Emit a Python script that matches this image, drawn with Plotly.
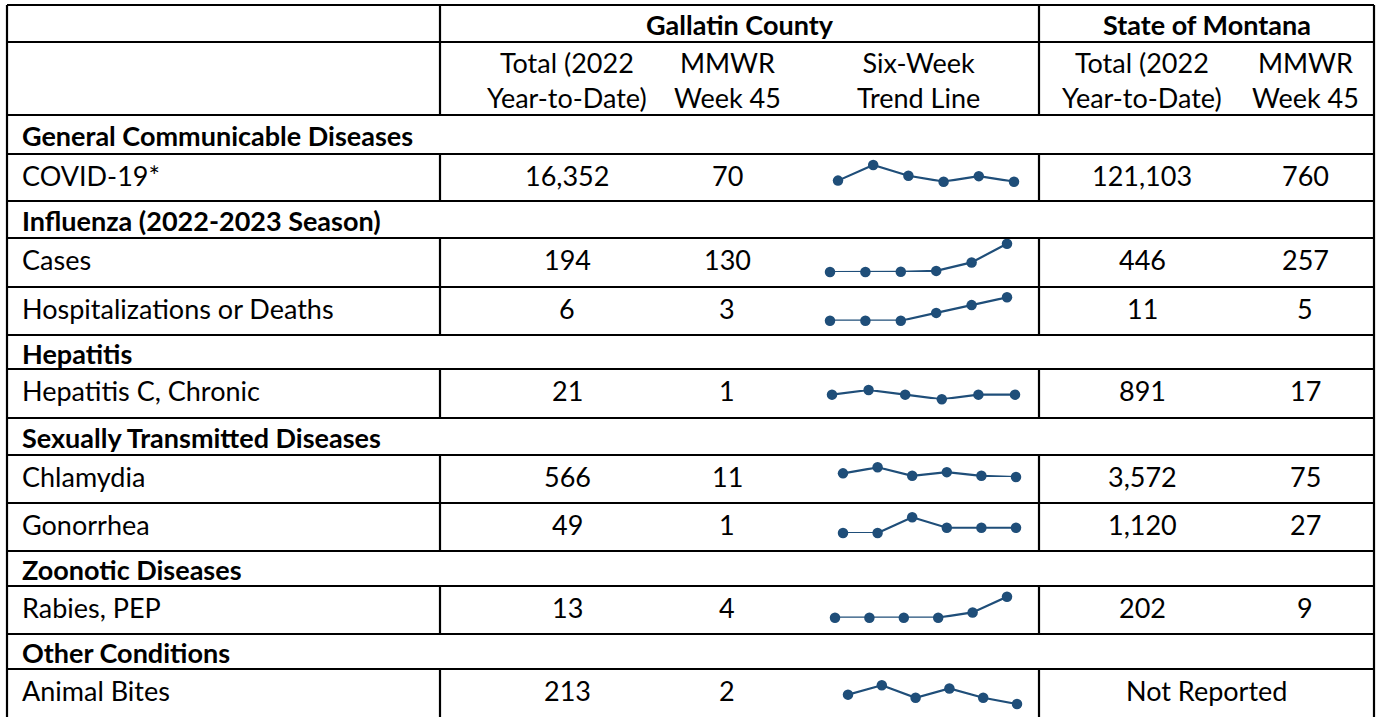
import plotly.graph_objects as go

W, H = 1377, 717

# ---------------- data ----------------
sections = ["General Communicable Diseases", "Influenza (2022-2023 Season)", "Hepatitis",
            "Sexually Transmitted Diseases", "Zoonotic Diseases", "Other Conditions"]
conditions = ["COVID-19*", "Cases", "Hospitalizations or Deaths", "Hepatitis C, Chronic",
              "Chlamydia", "Gonorrhea", "Rabies, PEP", "Animal Bites"]
condition_section = [0, 1, 1, 2, 3, 3, 4, 5]
gallatin_ytd = [16352, 194, 6, 21, 566, 49, 13, 213]
gallatin_week45 = [70, 130, 3, 1, 11, 1, 4, 2]
montana_ytd = [121103, 446, 11, 891, 3572, 1120, 202, None]
montana_week45 = [760, 257, 5, 17, 75, 27, 9, None]
weeks = [40, 41, 42, 43, 44, 45]
trend_covid = [73, 115, 86, 70, 85, 70]
trend_flu_cases = [3, 3, 4, 8, 46, 130]
trend_flu_hosp = [0, 0, 0, 1, 2, 3]
trend_hepc = [1, 2, 1, 0, 1, 1]
trend_chlamydia = [14, 19, 12, 15, 12, 11]
trend_gonorrhea = [0, 0, 3, 1, 1, 1]
trend_rabies = [0, 0, 0, 0, 1, 4]
trend_bites = [5, 8, 4, 7, 4, 2]
trends = [trend_covid, trend_flu_cases, trend_flu_hosp, trend_hepc,
          trend_chlamydia, trend_gonorrhea, trend_rabies, trend_bites]
header_groups = ["Gallatin County", "State of Montana"]
col_headers = ["Total (2022<br>Year-to-Date)", "MMWR<br>Week 45", "Six-Week<br>Trend Line",
               "Total (2022<br>Year-to-Date)", "MMWR<br>Week 45"]
not_reported = "Not Reported"

# ---------------- layout geometry (pixels) ----------------
FONT = "Lato"
FS = 27
LINE_W = 2.2
SPARK_COLOR = "#1f4e79"
X_LEFT, X_SPLIT1, X_SPLIT2, X_RIGHT = 7, 440, 1039, 1374
LABEL_X = 20
Y_TOP, Y_H1, Y_H2 = 5, 42, 115
row_bounds = [115, 154, 201, 238, 287, 335, 369, 418, 455, 503, 551, 586, 634, 669, 719]
# row kinds in order: 's' = section header, 'd' = data row
row_kind = ['s', 'd', 's', 'd', 'd', 's', 'd', 's', 'd', 'd', 's', 'd', 's', 'd']
col_x = [567, 727, 918, 1142, 1305]
spark_boxes = [  # left, right, top, bottom
    (838, 1014, 165, 181.7),
    (830, 1007, 243.7, 272),
    (830, 1007, 297.3, 320.7),
    (832, 1015, 390, 399.3),
    (843, 1016, 467.3, 477),
    (843, 1016, 517.3, 533),
    (835, 1007, 596.7, 617.7),
    (848, 1017, 685.3, 704),
]

fig = go.Figure()
shapes = []
annotations = []


def hline(y, x0=X_LEFT, x1=X_RIGHT):
    shapes.append(dict(type="line", xref="x", yref="y", x0=x0, x1=x1, y0=y, y1=y,
                       line=dict(color="black", width=LINE_W)))


def vline(x, y0, y1):
    shapes.append(dict(type="line", xref="x", yref="y", x0=x, x1=x, y0=y0, y1=y1,
                       line=dict(color="black", width=LINE_W)))


def text(x, y, s, anchor="center", bold=False):
    annotations.append(dict(x=x, y=y, xref="x", yref="y", text=(f"<b>{s}</b>" if bold else s),
                            showarrow=False, xanchor=anchor, yanchor="middle",
                            font=dict(family=FONT, size=FS, color="black")))


# header borders
for y in [Y_TOP, Y_H1, Y_H2] + row_bounds:
    hline(y)
vline(X_LEFT, Y_TOP, H + 2)
vline(X_RIGHT, Y_TOP, H + 2)
vline(X_SPLIT1, Y_TOP, Y_H2)
vline(X_SPLIT2, Y_TOP, Y_H2)

# header text
text((X_SPLIT1 + X_SPLIT2) / 2, (Y_TOP + Y_H1) / 2 + 1, header_groups[0], bold=True)
text((X_SPLIT2 + X_RIGHT) / 2, (Y_TOP + Y_H1) / 2 + 1, header_groups[1], bold=True)
for cx, h in zip(col_x, col_headers):
    text(cx, (Y_H1 + Y_H2) / 2 + 1, h)

# body
si = 0
di = 0
for r, kind in enumerate(row_kind):
    top, bot = row_bounds[r], row_bounds[r + 1]
    if kind == 's':
        text(LABEL_X, (top + bot) / 2 + 1, sections[si], anchor="left", bold=True)
        si += 1
    else:
        vline(X_SPLIT1, top, bot)
        vline(X_SPLIT2, top, bot)
        ty = top + 21
        text(LABEL_X, ty, conditions[di], anchor="left")
        text(col_x[0], ty, f"{gallatin_ytd[di]:,}")
        text(col_x[1], ty, f"{gallatin_week45[di]:,}")
        if montana_ytd[di] is None:
            text((X_SPLIT2 + X_RIGHT) / 2, ty, not_reported)
        else:
            text(col_x[3], ty, f"{montana_ytd[di]:,}")
            text(col_x[4], ty, f"{montana_week45[di]:,}")
        di += 1

# base pixel axes
layout_axes = dict(
    xaxis=dict(range=[0, W], visible=False, domain=[0, 1], fixedrange=True),
    yaxis=dict(range=[H, 0], visible=False, domain=[0, 1], fixedrange=True),
)

# sparklines
for i, (vals, box) in enumerate(zip(trends, spark_boxes)):
    k = i + 2
    left, right, top, bottom = box
    fig.add_trace(go.Scatter(x=weeks, y=vals, mode="lines+markers",
                             xaxis=f"x{k}", yaxis=f"y{k}", cliponaxis=False,
                             line=dict(color=SPARK_COLOR, width=2.2),
                             marker=dict(color=SPARK_COLOR, size=10.5),
                             hoverinfo="x+y", showlegend=False))
    vmin, vmax = min(vals), max(vals)
    layout_axes[f"xaxis{k}"] = dict(domain=[left / W, right / W], range=[weeks[0], weeks[-1]],
                                    visible=False, anchor=f"y{k}", fixedrange=True)
    layout_axes[f"yaxis{k}"] = dict(domain=[1 - bottom / H, 1 - top / H], range=[vmin, vmax],
                                    visible=False, anchor=f"x{k}", fixedrange=True)

fig.update_layout(
    width=W, height=H,
    margin=dict(l=0, r=0, t=0, b=0),
    paper_bgcolor="white", plot_bgcolor="white",
    shapes=shapes, annotations=annotations,
    showlegend=False,
    **layout_axes,
)

fig.write_html("out.html", config={"displayModeBar": False},
               post_script="document.body.style.margin='0';document.body.style.overflow='hidden';")
